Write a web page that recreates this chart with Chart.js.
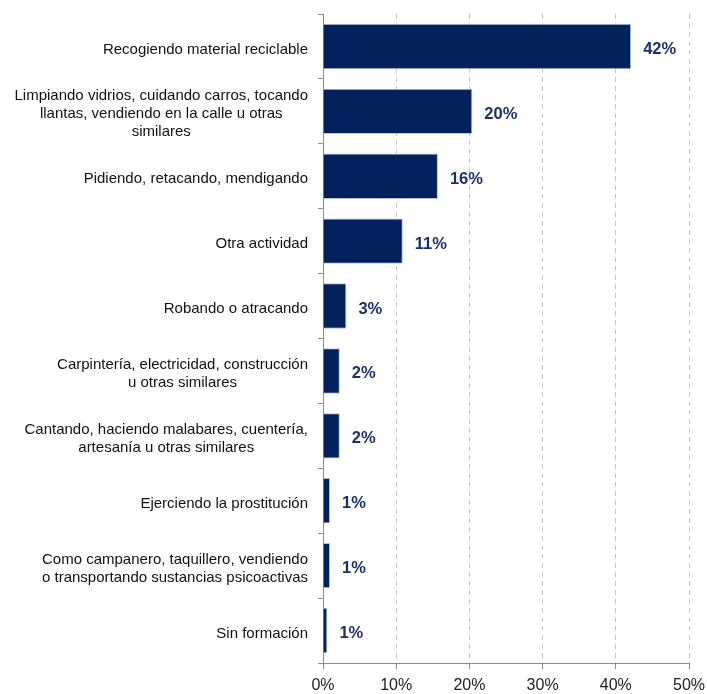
<!DOCTYPE html>
<html lang="es">
<head>
<meta charset="UTF-8">
<title>Actividades</title>
<script src="https://cdn.jsdelivr.net/npm/chart.js@4.4.1/dist/chart.umd.min.js"></script>
<style>
  html, body { margin: 0; padding: 0; background: #fff; }
  #wrap { width: 707px; height: 694px; }
</style>
</head>
<body>
<div id="wrap"><canvas id="chart"></canvas></div>
<script>
const categorias = [
  'Recogiendo material reciclable',
  ['Limpiando vidrios, cuidando carros, tocando', 'llantas, vendiendo en la calle u otras', 'similares'],
  'Pidiendo, retacando, mendigando',
  'Otra actividad',
  'Robando o atracando',
  ['Carpintería, electricidad, construcción', 'u otras similares'],
  ['Cantando, haciendo malabares, cuentería,', 'artesanía u otras similares'],
  'Ejerciendo la prostitución',
  ['Como campanero, taquillero, vendiendo', 'o transportando sustancias psicoactivas'],
  'Sin formación'
];
const porcentajes = [42.1, 20.4, 15.7, 10.9, 3.2, 2.3, 2.3, 0.96, 0.96, 0.6];
const etiquetas = ['42%', '20%', '16%', '11%', '3%', '2%', '2%', '1%', '1%', '1%'];
const ejeMax = 50;
const ejePaso = 10;

const fuente = '"Liberation Sans", Arial, sans-serif';

// etiquetas de valor + etiquetas del eje y (bloque alineado a la derecha, líneas centradas)
const etiquetasPlugin = {
  id: 'etiquetas',
  afterDatasetsDraw(chart) {
    const ctx = chart.ctx;
    const meta = chart.getDatasetMeta(0);
    ctx.save();
    ctx.font = 'bold 16.5px ' + fuente;
    ctx.fillStyle = '#1b2f6b';
    ctx.textBaseline = 'middle';
    ctx.textAlign = 'left';
    meta.data.forEach((bar, i) => ctx.fillText(etiquetas[i], bar.x + 12, bar.y + 3));

    const y = chart.scales.y;
    ctx.font = '15px ' + fuente;
    ctx.fillStyle = '#111';
    ctx.textAlign = 'center';
    y.ticks.forEach((t, i) => {
      const lineas = [].concat(categorias[i]);
      const w = Math.max(...lineas.map(l => ctx.measureText(l).width));
      const cx = y.right - 15 - w / 2;
      const py = y.getPixelForTick(i) + 3;
      lineas.forEach((l, k) => ctx.fillText(l, cx, py + (k - (lineas.length - 1) / 2) * 18));
    });
    ctx.restore();
  }
};

new Chart(document.getElementById('chart'), {
  type: 'bar',
  data: {
    labels: categorias,
    datasets: [{
      data: porcentajes,
      backgroundColor: '#03215d',
      borderColor: '#b8c0d8',
      borderWidth: 1,
      categoryPercentage: 1,
      barPercentage: 0.7
    }]
  },
  options: {
    indexAxis: 'y',
    responsive: true,
    maintainAspectRatio: false,
    animation: false,
    layout: { padding: { top: 14, right: 18, left: 0, bottom: 0 } },
    plugins: { legend: { display: false }, tooltip: { enabled: false } },
    scales: {
      x: {
        min: 0,
        max: ejeMax,
        ticks: { stepSize: ejePaso, callback: v => v + '%', color: '#222', font: { size: 16, family: fuente }, padding: 7, maxRotation: 0 },
        grid: { color: c => c.index === 0 ? 'rgba(0,0,0,0)' : '#c6c6c6', tickColor: '#8c8c8c', tickLength: 6, lineWidth: 1 },
        border: { color: '#8c8c8c', dash: [5, 4] },
        afterFit: s => { s.height = 31; s.paddingLeft = 0; s.paddingRight = 0; }
      },
      y: {
        ticks: { color: 'rgba(0,0,0,0)', font: { size: 15, family: fuente }, padding: 10 },
        grid: { drawOnChartArea: false, tickLength: 5, color: '#8c8c8c', offset: true },
        border: { color: '#8c8c8c' },
        afterFit: s => { s.width = 323; s.paddingTop = 0; s.paddingBottom = 0; }
      }
    }
  },
  plugins: [etiquetasPlugin]
});
</script>
</body>
</html>
